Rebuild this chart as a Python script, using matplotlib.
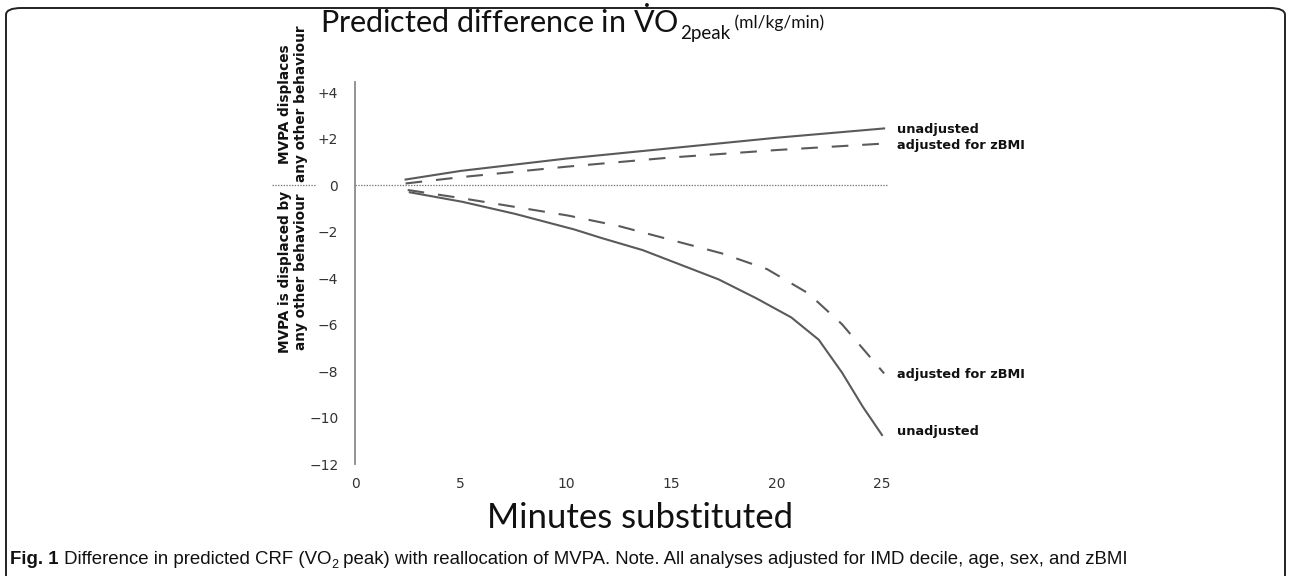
import matplotlib
matplotlib.use("Agg")
import matplotlib.pyplot as plt
from matplotlib.patches import FancyBboxPatch

# ---------------- data ----------------
x_ticks = [0, 5, 10, 15, 20, 25]
y_ticks = [4, 2, 0, -2, -4, -6, -8, -10, -12]
y_tick_labels = ["+4", "+2", "0", "\u22122", "\u22124", "\u22126", "\u22128", "\u221210", "\u221212"]

# MVPA displaces any other behaviour
up_min = [2.4, 5, 10, 15, 20, 25.1]
up_unadj = [0.25, 0.62, 1.15, 1.6, 2.05, 2.45]
up_adj = [0.08, 0.35, 0.8, 1.2, 1.52, 1.8]

# MVPA is displaced by any other behaviour
lo_unadj_min = [2.6, 5.1, 7.6, 10.4, 11.7, 13.65, 17.25, 19.05, 20.7, 22.0, 23.1, 24.1, 25.0]
lo_unadj = [-0.3, -0.71, -1.23, -1.9, -2.27, -2.79, -4.05, -4.87, -5.69, -6.65, -8.06, -9.55, -10.75]
lo_adj_min = [2.5, 5.1, 7.6, 10.1, 12.5, 14.95, 17.4, 19.55, 21.5, 23.1, 25.1]
lo_adj = [-0.2, -0.56, -0.93, -1.3, -1.75, -2.34, -2.93, -3.61, -4.65, -5.98, -8.1]

series_labels = ["unadjusted", "adjusted for zBMI"]

# ---------------- figure ----------------
W, H = 1290, 576
plt.rcParams['lines.scale_dashes'] = False
plt.rcParams['mathtext.fontset'] = 'custom'
plt.rcParams['mathtext.rm'] = 'Lato'
plt.rcParams['mathtext.it'] = 'Lato'

fig = plt.figure(figsize=(W / 100, H / 100), dpi=100)


def P(x, y):
    return (x / W, 1 - y / H)


# rounded border
fig.patches.append(FancyBboxPatch(P(6, 582), (1279) / W, (574) / H,
                                  boxstyle="round,pad=0,rounding_size=0.012",
                                  transform=fig.transFigure, fill=False,
                                  edgecolor="#222222", linewidth=1.4))

x0, x25 = 355, 882
ytop, ybot = 82, 464
ax = fig.add_axes([x0 / W, 1 - ybot / H, (x25 - x0) / W, (ybot - ytop) / H])
ax.set_xlim(0, 25)
ax.set_ylim(-12, 4.45)
for s in ["top", "right", "bottom"]:
    ax.spines[s].set_visible(False)
ax.spines["left"].set_color("#8a8a8a")
ax.spines["left"].set_linewidth(1.3)
ax.set_xticks(x_ticks)
ax.set_yticks(y_ticks)
ax.set_yticklabels(y_tick_labels)
ax.tick_params(axis="both", length=0, labelsize=10, labelcolor="#333333")
ax.tick_params(axis="y", pad=12)
ax.tick_params(axis="x", pad=9)
for lab in ax.get_xticklabels() + ax.get_yticklabels():
    lab.set_family("DejaVu Sans")

lc = "#5a5a5a"
ax.axhline(0, xmin=0, xmax=25.3 / 25, color="#777777", lw=0.9, ls=(0, (1, 1)), clip_on=False)
ax.plot([-3.95, -1.9], [0, 0], color="#777777", lw=0.9, ls=(0, (1, 1)), clip_on=False)

ax.plot(up_min, up_unadj, color=lc, lw=1.5, clip_on=False)
ax.plot(up_min, up_adj, color=lc, lw=1.5, dashes=(12, 10), clip_on=False)
ax.plot(lo_unadj_min, lo_unadj, color=lc, lw=1.5, clip_on=False)
ax.plot(lo_adj_min, lo_adj, color=lc, lw=1.5, dashes=(12, 10), clip_on=False)

lab_kw = dict(fontsize=9.3, fontweight="bold", family="DejaVu Sans", color="#111111",
              va="center", ha="left", clip_on=False)
ax.text(25.7, up_unadj[-1] - 0.05, series_labels[0], **lab_kw)
ax.text(25.7, up_adj[-1] - 0.1, series_labels[1], **lab_kw)
ax.text(25.7, lo_adj[-1] - 0.05, series_labels[1], **lab_kw)
ax.text(25.7, lo_unadj[-1] + 0.15, series_labels[0], **lab_kw)

# rotated side labels
rot_kw = dict(rotation=90, fontsize=9.8, fontweight="bold", family="DejaVu Sans",
              color="#111111", ha="center", multialignment="center", linespacing=1.15)
fig.text(*P(293, 182), "MVPA displaces\nany other behaviour", va="bottom", **rot_kw)
fig.text(*P(293, 191), "MVPA is displaced by\nany other behaviour", va="top", **rot_kw)

# title
t1 = fig.text(*P(320, 33), r"Predicted difference in $\dot{\mathrm{V}}$O", fontsize=22,
              family="Lato", color="#111111", va="baseline", ha="left")
t2 = fig.text(0, 0, "2peak", fontsize=13.5, family="Lato",
              color="#111111", va="baseline", ha="left")
t3 = fig.text(0, 0, " (ml/kg/min)", fontsize=12.5, family="Lato",
              color="#111111", va="baseline", ha="left")
fig.canvas.draw()
r = fig.canvas.get_renderer()
bb = t1.get_window_extent(r)
t2.set_position(((bb.x1 + 1) / W, (H - 39) / H))
bb2 = t2.get_window_extent(r)
t3.set_position((bb2.x1 / W, (H - 28) / H))

# x label
fig.text(*P(640, 528), "Minutes substituted", fontsize=25, family="Lato",
         color="#111111", va="baseline", ha="center")

# caption
cf = ["Liberation Sans", "DejaVu Sans"]
c1 = fig.text(*P(10, 564), "Fig. 1", fontsize=13.4, fontweight="bold",
              family=cf, color="#111111", va="baseline")
c2 = fig.text(0, 0, " Difference in predicted CRF (VO", fontsize=13.4,
              family=cf, color="#111111", va="baseline")
c3 = fig.text(0, 0, "2", fontsize=9, family=cf, color="#111111", va="baseline")
c4 = fig.text(0, 0, " peak) with reallocation of MVPA. Note. All analyses adjusted for IMD decile, age, sex, and zBMI",
              fontsize=13.4, family=cf, color="#111111", va="baseline")
fig.canvas.draw()
b = c1.get_window_extent(r)
c2.set_position((b.x1 / W, (H - 564) / H))
b = c2.get_window_extent(r)
c3.set_position((b.x1 / W, (H - 568) / H))
b = c3.get_window_extent(r)
c4.set_position((b.x1 / W, (H - 564) / H))

fig.savefig("out.png", dpi=100)
